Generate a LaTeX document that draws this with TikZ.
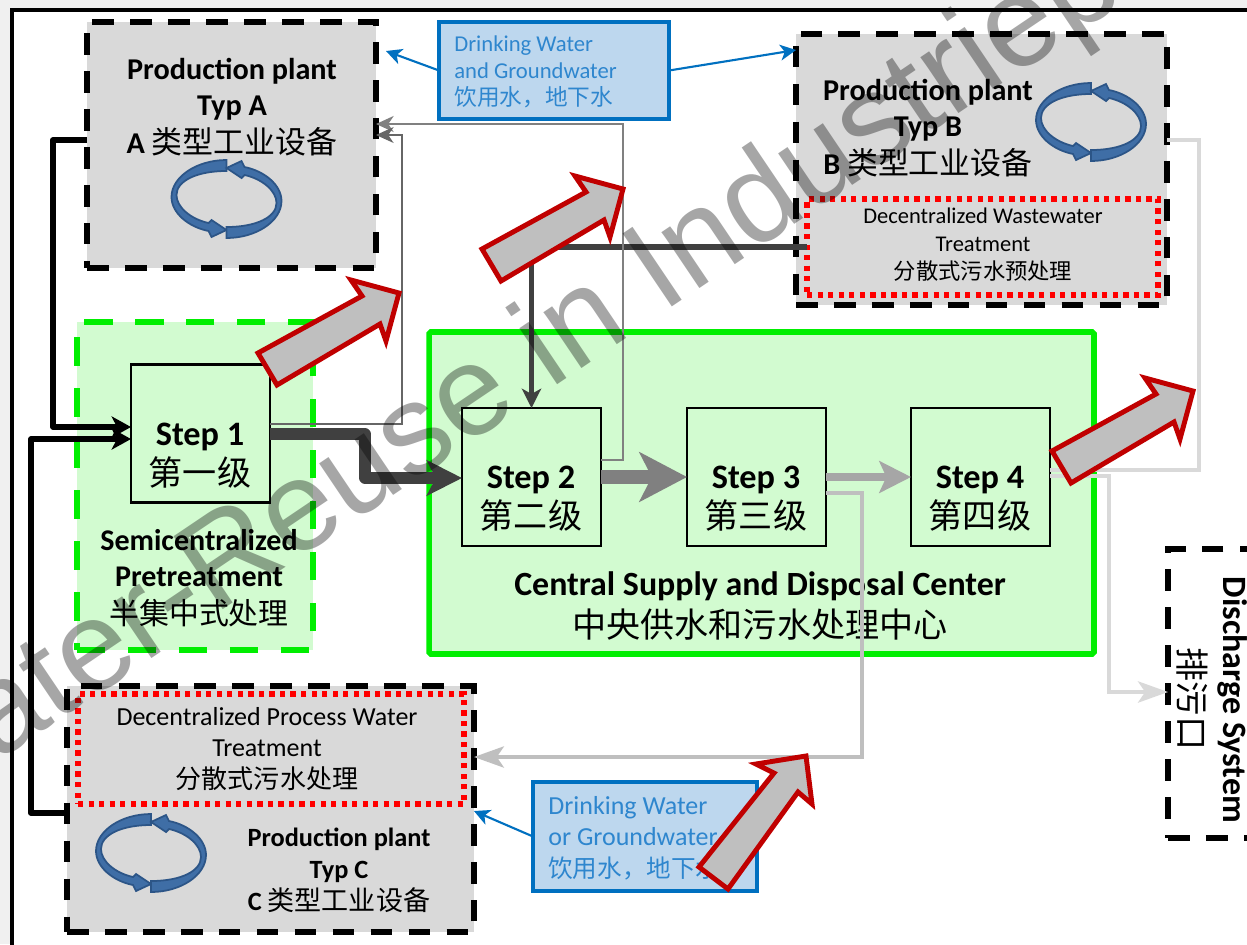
\documentclass[tikz,border=0pt]{standalone}
\usepackage{fontspec}
\usepackage{xcolor}
\usetikzlibrary{arrows.meta}
\setmainfont{Carlito}
\newfontfamily\cjk{Noto Sans CJK SC}
\newfontfamily\marksans{Liberation Sans}
\newcommand{\zh}[2]{{\fontsize{#1}{#1}\selectfont\mdseries\cjk #2}}
\definecolor{plantgrey}{HTML}{D9D9D9}
\definecolor{stepgreen}{HTML}{D2FBD0}
\definecolor{linegreen}{HTML}{00EE00}
\definecolor{waterblue}{HTML}{BDD7EE}
\definecolor{lineblue}{HTML}{0070C0}
\definecolor{textblue}{HTML}{2E86CE}
\definecolor{arrowred}{HTML}{C00000}
\definecolor{arrowgrey}{HTML}{BFBFBF}
\definecolor{cycleblue}{HTML}{3F6EA6}
\definecolor{cycledark}{HTML}{2C5587}
\tikzset{
    plantbox/.style = {rectangle, draw=black, fill=plantgrey, line width=3pt, dash pattern=on 12.3pt off 9.3pt, inner sep=0pt, outer sep=0pt},
    semibox/.style = {rectangle, draw=linegreen, fill=stepgreen, line width=3.4pt, dash pattern=on 16.2pt off 12.8pt, inner sep=0pt, outer sep=0pt},
    centerbox/.style = {rectangle, draw=linegreen, fill=stepgreen, line width=3.2pt, rounded corners=1pt, inner sep=0pt, outer sep=0pt},
    dotbox/.style = {rectangle, draw=red, line width=3.2pt, dash pattern=on 3pt off 3pt, inner sep=0pt, outer sep=0pt},
    waterbox/.style = {rectangle, draw=lineblue, fill=waterblue, line width=1.8pt, inner sep=0pt, outer sep=0pt},
    stepbox/.style = {rectangle, draw=black, fill=stepgreen, line width=1.2pt, minimum width=2.78cm, minimum height=2.76cm, inner sep=0pt, outer sep=0pt},
    steplabel/.style = {align=center, inner sep=0pt, font=\fontsize{19.5}{22.8}\selectfont\bfseries},
    plantlabel/.style = {align=center, inner sep=0pt, font=\fontsize{17.2}{20.5}\selectfont\bfseries},
    plantlabelc/.style = {align=center, inner sep=0pt, font=\fontsize{15}{18.2}\selectfont\bfseries},
    treatlabel/.style = {align=center, inner sep=0pt},
    waterlabel/.style = {align=left, anchor=west, inner sep=0pt, text=textblue},
    blockarrow/.pic = {
        \draw[draw=arrowred, fill=arrowgrey, line width=2.8pt, miter limit=10]
            (-1,1) -- (-49,-12) -- (-38,4) -- (-142,61) -- (-123,93) -- (-20,32) -- (-14,49) -- cycle;
    },
    cyclehalf/.pic = {
        \draw[draw=cycledark, fill=cycleblue, line width=1pt]
            (0,-39) .. controls (-30,-39) and (-55,-22) .. (-55,-2)
            .. controls (-55,14) and (-38,28) .. (-18,32) -- (-15,38) -- (0,31) -- (-15,21) -- (-18,24)
            .. controls (-36,20) and (-50,8) .. (-50,-4)
            .. controls (-50,-18) and (-30,-28) .. (0,-28) -- cycle;
    },
    cyclearrows/.pic = {
        \pic {cyclehalf};
        \pic[rotate=180] {cyclehalf};
    },
}

\begin{document}
\begin{tikzpicture}[x=0.02cm, y=-0.02cm]
\tikzset{
    edgeblack/.style = {black, line width=3.3pt, line join=round, -{Stealth[length=11pt,width=12pt,inset=3pt]}},
    edgemain/.style = {black!75, line width=6.3pt, line join=round, -{Stealth[length=20pt,width=20pt,inset=5pt]}},
    edgemid/.style = {black!50, line width=8pt, -{Stealth[length=27pt,width=28pt,inset=7pt]}},
    edgelight/.style = {black!35, line width=4.6pt, -{Stealth[length=18pt,width=18pt,inset=4pt]}},
    edgedown/.style = {black!75, line width=3.2pt, line join=round, -{Stealth[length=11pt,width=11pt,inset=3pt]}},
    edgegrey/.style = {black!50, line width=1.6pt, -{Stealth[length=10pt,width=9pt,inset=3pt]}},
    edgesoft/.style = {black!25, line width=2.3pt, -{Stealth[length=17pt,width=12pt,inset=4pt]}},
    edgepale/.style = {black!15, line width=2.6pt, -{Stealth[length=17pt,width=12pt,inset=4pt]}},
    edgeblue/.style = {lineblue, line width=1.2pt, -{Stealth[length=9pt,width=9pt,inset=2.5pt]}},
}
\useasboundingbox (0,0) rectangle (1247,944);
\clip (0,0) rectangle (1247,944);
\fill[black!6] (0,0) rectangle (1247,944);
\draw[fill=white, line width=1.8pt] (12,1000) -- (12,10) -- (1300,10) -- (1300,1000) -- cycle;
%
\node[plantbox, minimum width=5.78cm, minimum height=4.92cm] at (231.5,145) (planta) {};
\node[plantbox, minimum width=7.42cm, minimum height=5.42cm] at (981.5,169.5) (plantb) {};
\node[plantbox, minimum width=8.14cm, minimum height=4.92cm] at (270.5,809) (plantc) {};
\node[semibox, minimum width=4.72cm, minimum height=6.56cm] at (195,486) (semi) {};
\node[centerbox, minimum width=13.3cm, minimum height=6.44cm] at (761.5,493) (center) {};
\node[dotbox, minimum width=7.02cm, minimum height=1.92cm] at (982.5,247) (wastewater) {};
\node[dotbox, minimum width=7.72cm, minimum height=2.2cm] at (271,749) (process) {};
\node[waterbox, minimum width=4.6cm, minimum height=1.94cm] at (554,70.5) (watertop) {};
\node[waterbox, minimum width=4.48cm, minimum height=2.18cm] at (645,836.5) (waterbot) {};
\node[plantbox, fill=none, minimum width=1.84cm, minimum height=5.78cm] at (1214,693.5) (discharge) {};
%
\node[stepbox] at (200.5,433.5) (step1) {};
\node[stepbox] at (531.5,477) (step2) {};
\node[stepbox] at (756.5,477) (step3) {};
\node[stepbox] at (980.5,477) (step4) {};
\node[steplabel] at (200,456) (text1) {Step 1\\\zh{19.4}{第一级}};
\node[steplabel] at (531,499) (text2) {Step 2\\\zh{19.4}{第二级}};
\node[steplabel] at (756,499) (text3) {Step 3\\\zh{19.4}{第三级}};
\node[steplabel] at (980,499) (text4) {Step 4\\\zh{19.4}{第四级}};
%
\node[plantlabel] at (232,107.5) (labela) {Production plant\\Typ A\\[1pt]A \zh{17.6}{类型工业设备}};
\node[plantlabel] at (928,128) (labelb) {Production plant\\Typ B\\[1pt]B \zh{17.6}{类型工业设备}};
\node[plantlabelc] at (339,870) (labelc) {Production plant\\Typ C\\C \zh{15.4}{类型工业设备}};
\node[treatlabel, font=\fontsize{12.8}{15.4}\selectfont] at (983,245) (labelw) {Decentralized Wastewater\\Treatment\\[1pt]\zh{12.7}{分散式污水预处理}};
\node[treatlabel, font=\fontsize{14.8}{18}\selectfont] at (267,749) (labelp) {Decentralized Process Water\\Treatment\\\zh{14.8}{分散式污水处理}};
\node[plantlabel, font=\fontsize{17.1}{20.5}\selectfont\bfseries] at (199,578) (labelsemi) {Semicentralized\\Pretreatment\\[1pt]\zh{17}{半集中式处理}};
\node[plantlabel, font=\fontsize{19.3}{23}\selectfont\bfseries] at (760,606) (labelcenter) {Central Supply and Disposal Center\\[1pt]\zh{19.4}{中央供水和污水处理中心}};
\node[waterlabel, font=\fontsize{12.9}{15.5}\selectfont] at (454,72) (labeltop) {Drinking Water\\and Groundwater\\\zh{12.9}{饮用水，地下水}};
\node[waterlabel, font=\fontsize{14.8}{17.8}\selectfont] at (548,838) (labelbot) {Drinking Water\\or Groundwater\\\zh{14}{饮用水，地下水}};
\node[plantlabel, rotate=-90, font=\fontsize{19.4}{20}\selectfont\bfseries] at (1233,700) (labeld) {Discharge System};
\node[plantlabel, rotate=-90] at (1192,699) (labeldz) {\zh{19.4}{排污口}};
%
\pic at (226.5,199) {cyclearrows};
\pic at (1091,122) {cyclearrows};
\pic at (151,853) {cyclearrows};
%
\draw[edgeblack] (planta.west |- 0,140) -| (53,427) -- (step1.west |- 0,427);
\draw[edgeblack] (plantc.west |- 0,813) -| (31,439) -- (step1.west |- 0,439);
\draw[edgemain] (step1.east |- 0,434) -| (365,478) -- (step2.west |- 0,478);
\draw[edgemid] (step2.east) -- (step3.west);
\draw[edgelight] (step3.east) -- (step4.west);
\draw[edgedown] (wastewater.west) -| (step2.north);
%
\draw[edgegrey] (step2.east |- 0,460) -| (623,124) -- (planta.east |- 0,124);
\draw[edgegrey, black!60, line width=1.2pt] (step1.east |- 0,424) -| (402,135) -- (planta.east |- 0,135);
\draw[edgesoft] (step3.east |- 0,493) -| (862,757) -- (plantc.east |- 0,757);
\draw[edgepale, -] (step4.east |- 0,470) -| (1199,140) -- (plantb.east |- 0,140);
\draw[edgepale] (step4.east |- 0,476) -| (1109,692) -- (discharge.west |- 0,692);
%
\draw[edgeblue] (watertop.west) -- (386,51);
\draw[edgeblue] (watertop.east) -- (plantb.west |- 0,50);
\draw[edgeblue] (waterbot.west) -- (plantc.east |- 0,811);
%
\pic at (400,292) {blockarrow};
\pic at (624,188) {blockarrow};
\pic at (1194,390) {blockarrow};
\draw[draw=arrowred, fill=arrowgrey, line width=2.8pt, miter limit=10]
    (806,756) -- (756,764) -- (774,773) -- (699,867) -- (728,889) -- (798,792) -- (812,804) -- cycle;
%
\node[anchor=base, rotate=34, text=black, text opacity=0.35, inner sep=0pt, font=\marksans\fontsize{72.8}{73}\selectfont] at (562.6,381) (mark) {ater-Reuse in Industriep};
\end{tikzpicture}
\end{document}
